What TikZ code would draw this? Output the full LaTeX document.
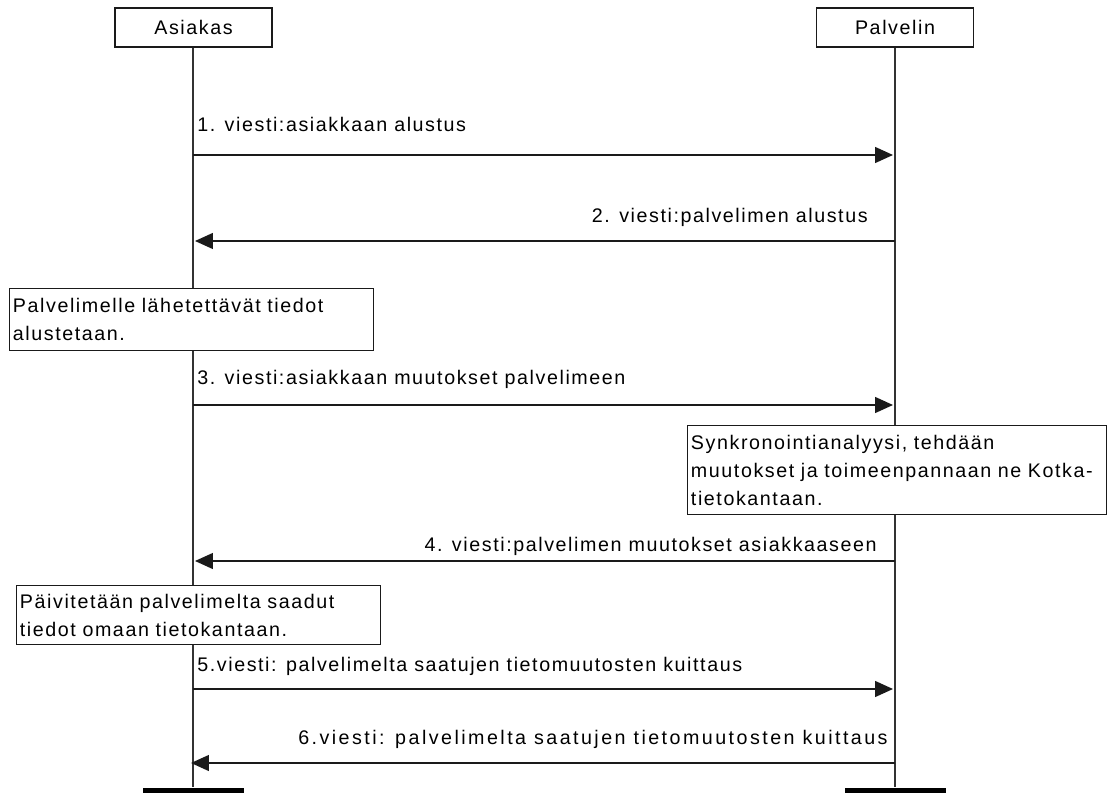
\documentclass[tikz,border=0pt]{standalone}
\usepackage{fontspec}
\setmainfont{Liberation Sans}
\newfontfamily\diagfont[LetterSpace=8]{Liberation Sans}
\usetikzlibrary{arrows.meta, positioning, calc}
\definecolor{lineK}{HTML}{1A1A1A}
\definecolor{lifeG}{HTML}{333333}

\begin{document}
\begin{tikzpicture}[
  x=0.02cm, y=-0.02cm,
  actor/.style={
    draw=lineK, fill=white,
    font=\diagfont\fontsize{11.2}{13}\selectfont,
    minimum width=3.14cm, minimum height=0.78cm,
    inner sep=0pt, line width=0.8pt
  },
  endbar/.style={
    fill=black, draw=none,
    minimum width=2.02cm, minimum height=0.11cm,
    inner sep=0pt
  },
  notebox/.style={
    draw=lineK, fill=white,
    font=\diagfont\fontsize{11.2}{16}\selectfont,
    anchor=north west, align=left,
    inner xsep=1.5pt, inner ysep=0pt,
    line width=0.8pt
  },
  lbl/.style={font=\diagfont\fontsize{11.2}{13}\selectfont, inner sep=0pt},
  lifeline/.style={line width=0.8pt, lifeG},
  msg/.style={-{Triangle[length=0.36cm, width=0.32cm]}, line width=0.8pt, lineK}
]
\useasboundingbox (0,0) rectangle (1108,793);

%% ═══ OSAPUOLET ═══
\node[actor] (asiakas) at (193.5,27.5) {Asiakas};
\node[actor] (palvelin) at (895,27.5) {Palvelin};

\node[endbar] (endA) at (193.5,790.5) {};
\node[endbar] (endP) at (895,790.5) {};

\draw[lifeline] (asiakas.south -| 193,0) -- (endA.north -| 193,0);
\draw[lifeline] (palvelin.south) -- (endP.north);

%% ═══ VIESTIT 1--2 ═══
\coordinate (a1) at (193,155);
\coordinate (p1) at (893,155);
\draw[msg] (a1) -- (p1);
\node[lbl, anchor=base west] (t1) at (197,132) {1. viesti:asiakkaan alustus};

\coordinate (p2) at (895,241);
\coordinate (a2) at (195,241);
\draw[msg] (p2) -- (a2);
\node[lbl, anchor=base east] (t2) at (868,223) {2. viesti:palvelimen alustus};

%% ═══ ASIAKAS: ALUSTUS ═══
\node[notebox, minimum width=7.28cm, minimum height=1.24cm, text width=7.15cm] (note1) at (9,288)
  {Palvelimelle lähetettävät tiedot\\alustetaan.};

%% ═══ VIESTI 3 ═══
\coordinate (a3) at (193,405);
\coordinate (p3) at (893,405);
\draw[msg] (a3) -- (p3);
\node[lbl, anchor=base west] (t3) at (197,385) {3. viesti:asiakkaan muutokset palvelimeen};

%% ═══ PALVELIN: SYNKRONOINTI ═══
\node[notebox, minimum width=8.38cm, minimum height=1.78cm, text width=8.25cm] (note2) at (687,425)
  {Synkronointianalyysi, tehdään\\muutokset ja toimeenpannaan ne Kotka-\\tietokantaan.};

%% ═══ VIESTI 4 ═══
\coordinate (p4) at (895,561);
\coordinate (a4) at (195,561);
\draw[msg] (p4) -- (a4);
\node[lbl, anchor=base east] (t4) at (877,551) {4. viesti:palvelimen muutokset asiakkaaseen};

%% ═══ ASIAKAS: PÄIVITYS ═══
\node[notebox, minimum width=7.28cm, minimum height=1.18cm, text width=7.15cm] (note3) at (16,585)
  {Päivitetään palvelimelta saadut\\tiedot omaan tietokantaan.};

%% ═══ VIESTIT 5--6 ═══
\coordinate (a5) at (193,689);
\coordinate (p5) at (893,689);
\draw[msg] (a5) -- (p5);
\node[lbl, anchor=base west] (t5) at (197,671) {5.viesti: palvelimelta saatujen tietomuutosten kuittaus};

\coordinate (p6) at (895,763);
\coordinate (a6) at (191,763);
\draw[msg] (p6) -- (a6);
\node[lbl, anchor=base east] (t6) at (888,744)
  {\addfontfeature{LetterSpace=12.5}6.viesti: palvelimelta saatujen tietomuutosten kuittaus};

\end{tikzpicture}
\end{document}
